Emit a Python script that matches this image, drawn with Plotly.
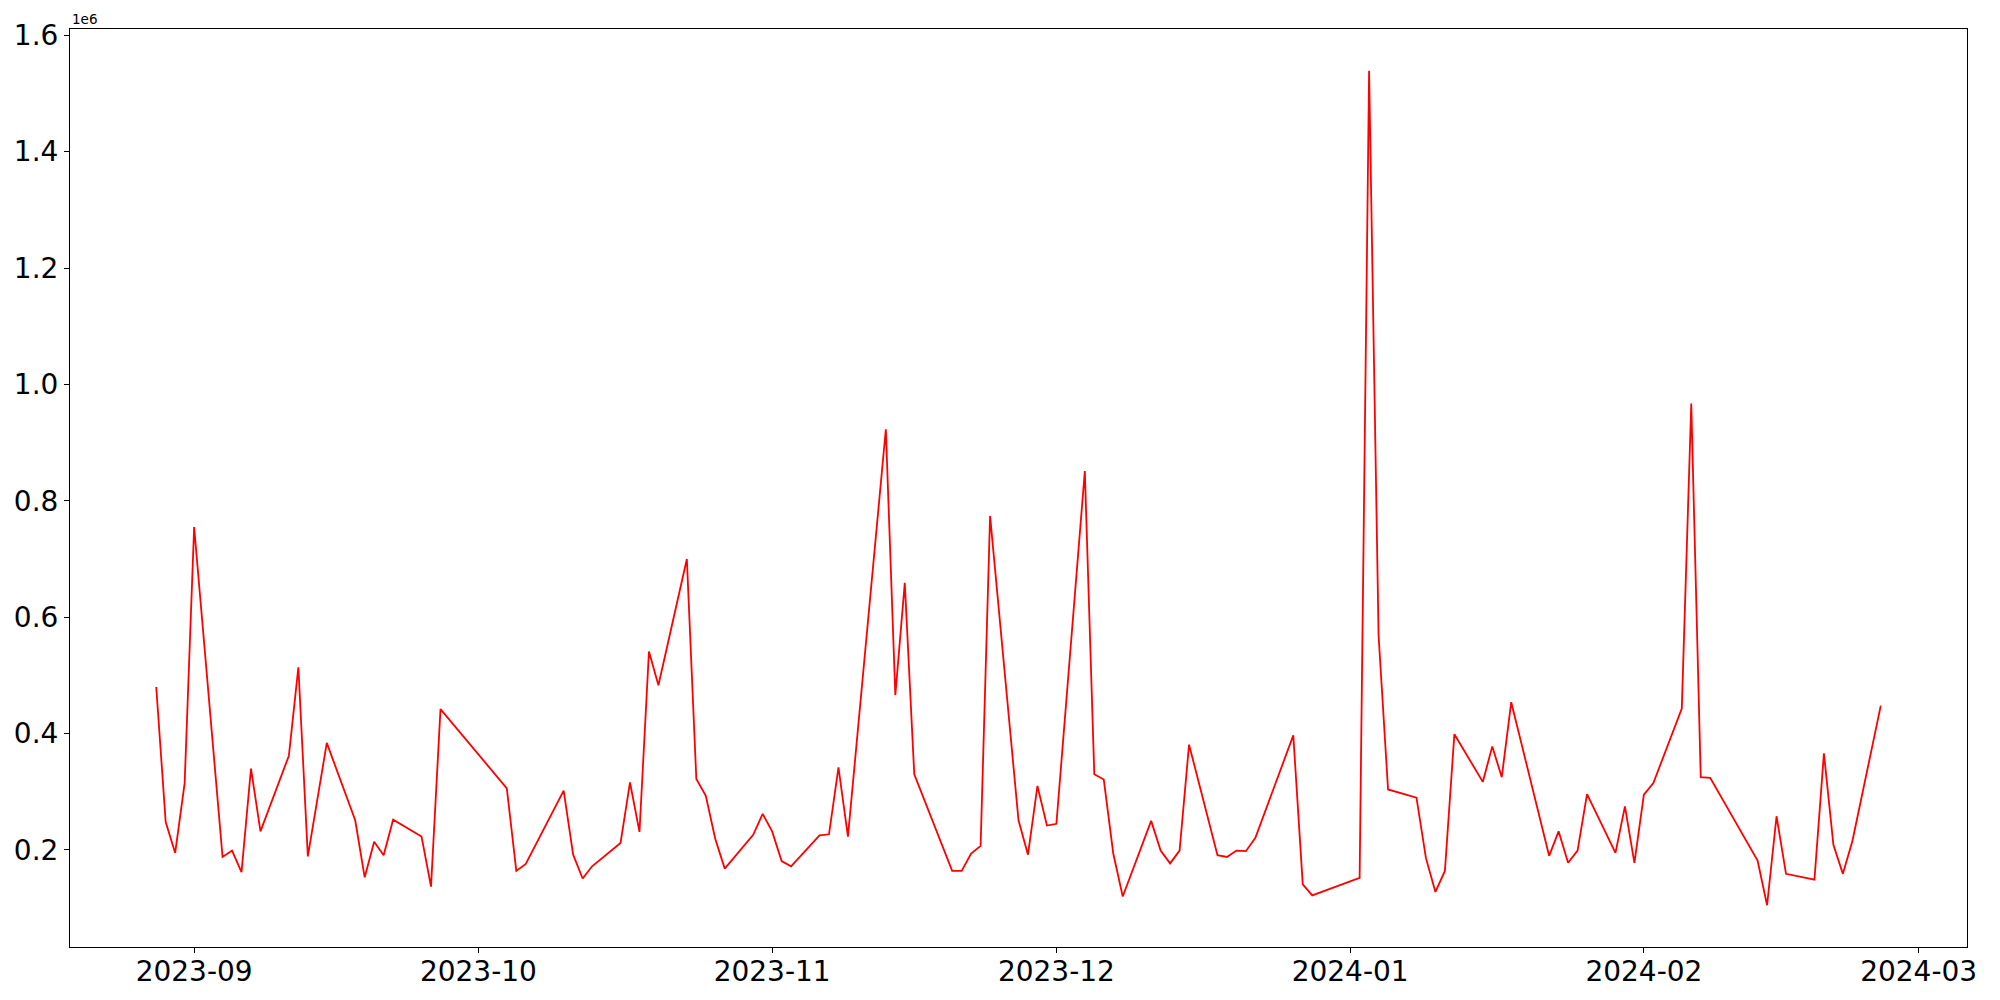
import plotly.graph_objects as go
import pandas as pd

dates = [
    "2023-08-28", "2023-08-29", "2023-08-30", "2023-08-31", "2023-09-01",
    "2023-09-04", "2023-09-05", "2023-09-06", "2023-09-07", "2023-09-08",
    "2023-09-11", "2023-09-12", "2023-09-13", "2023-09-15", "2023-09-18",
    "2023-09-19", "2023-09-20", "2023-09-21", "2023-09-22", "2023-09-25",
    "2023-09-26", "2023-09-27", "2023-10-04", "2023-10-05", "2023-10-06",
    "2023-10-10", "2023-10-11", "2023-10-12", "2023-10-13", "2023-10-16",
    "2023-10-17", "2023-10-18", "2023-10-19", "2023-10-20", "2023-10-23",
    "2023-10-24", "2023-10-25", "2023-10-26", "2023-10-27", "2023-10-30",
    "2023-10-31", "2023-11-01", "2023-11-02", "2023-11-03", "2023-11-06",
    "2023-11-07", "2023-11-08", "2023-11-09", "2023-11-13", "2023-11-14",
    "2023-11-15", "2023-11-16", "2023-11-20", "2023-11-21", "2023-11-22",
    "2023-11-23", "2023-11-24", "2023-11-27", "2023-11-28", "2023-11-29",
    "2023-11-30", "2023-12-01", "2023-12-04", "2023-12-05", "2023-12-06",
    "2023-12-07", "2023-12-08", "2023-12-11", "2023-12-12", "2023-12-13",
    "2023-12-14", "2023-12-15", "2023-12-18", "2023-12-19", "2023-12-20",
    "2023-12-21", "2023-12-22", "2023-12-26", "2023-12-27", "2023-12-28",
    "2024-01-02", "2024-01-03", "2024-01-04", "2024-01-05", "2024-01-08",
    "2024-01-09", "2024-01-10", "2024-01-11", "2024-01-12", "2024-01-15",
    "2024-01-16", "2024-01-17", "2024-01-18", "2024-01-22", "2024-01-23",
    "2024-01-24", "2024-01-25", "2024-01-26", "2024-01-29", "2024-01-30",
    "2024-01-31", "2024-02-01", "2024-02-02", "2024-02-05", "2024-02-06",
    "2024-02-07", "2024-02-08", "2024-02-13", "2024-02-14", "2024-02-15",
    "2024-02-16", "2024-02-19", "2024-02-20", "2024-02-21", "2024-02-22",
    "2024-02-23", "2024-02-26",
]

values = [
    480000, 248000, 195000, 315000, 755000,
    188000, 199000, 162000, 340000, 232000,
    362000, 514000, 189000, 384000, 251000,
    153000, 214000, 191000, 252000, 223000,
    137000, 442000, 306000, 164000, 176000,
    302000, 192000, 151000, 172000, 212000,
    316000, 231000, 541000, 483000, 700000,
    322000, 293000, 219000, 168000, 226000,
    262000, 232000, 181000, 172000, 225000,
    227000, 342000, 223000, 923000, 466000,
    659000, 330000, 164000, 164000, 194000,
    207000, 774000, 251000, 192000, 310000,
    242000, 245000, 851000, 330000, 321000,
    194000, 120000, 250000, 199000, 177000,
    199000, 381000, 191000, 188000, 199000,
    198000, 221000, 397000, 141000, 122000,
    152000, 1539000, 569000, 304000, 290000,
    186000, 128000, 164000, 399000, 317000,
    378000, 325000, 454000, 190000, 232000,
    178000, 199000, 296000, 195000, 275000,
    178000, 295000, 315000, 443000, 967000,
    325000, 324000, 182000, 105000, 258000,
    159000, 149000, 366000, 209000, 159000,
    215000, 448000,
]

y_tick_vals = [200000, 400000, 600000, 800000, 1000000, 1200000, 1400000, 1600000]
y_tick_text = ["0.2", "0.4", "0.6", "0.8", "1.0", "1.2", "1.4", "1.6"]
x_tick_vals = ["2023-09-01", "2023-10-01", "2023-11-01", "2023-12-01",
               "2024-01-01", "2024-02-01", "2024-03-01"]
x_tick_text = ["2023-09", "2023-10", "2023-11", "2023-12", "2024-01", "2024-02", "2024-03"]

# matplotlib-like 5% autoscale margins
d = pd.to_datetime(dates)
span = d.max() - d.min()
x_range = [d.min() - span * 0.05, d.max() + span * 0.05]
vmin, vmax = min(values), max(values)
vspan = vmax - vmin
y_range = [vmin - 0.05 * vspan, vmax + 0.05 * vspan]

fig = go.Figure()
fig.add_trace(go.Scatter(
    x=dates, y=values, mode="lines",
    line=dict(color="red", width=1.8),
    showlegend=False,
))

font = "DejaVu Sans, sans-serif"
fig.update_layout(
    width=1984, height=984,
    margin=dict(l=62, r=25, t=21, b=45, autoexpand=False),
    paper_bgcolor="white", plot_bgcolor="white",
    font=dict(family=font, color="black"),
    xaxis=dict(
        range=[x_range[0].isoformat(), x_range[1].isoformat()],
        tickvals=x_tick_vals, ticktext=x_tick_text,
        tickfont=dict(size=28, family=font, color="black"),
        ticks="outside", ticklen=5, tickwidth=1, tickcolor="black",
        ticklabelstandoff=-6,
        showline=True, linecolor="black", linewidth=1, mirror=True,
        showgrid=False, zeroline=False, automargin=False,
    ),
    yaxis=dict(
        range=y_range,
        tickvals=y_tick_vals, ticktext=y_tick_text,
        tickfont=dict(size=28, family=font, color="black"),
        ticks="outside", ticklen=5, tickwidth=1, tickcolor="black",
        showline=True, linecolor="black", linewidth=1, mirror=True,
        showgrid=False, zeroline=False, automargin=False,
    ),
    annotations=[dict(
        text="1e6", xref="paper", yref="paper", x=0, y=1,
        xanchor="left", yanchor="bottom", showarrow=False,
        font=dict(size=13.5, family=font, color="black"), yshift=0,
    )],
)

fig.write_html("out.html")
